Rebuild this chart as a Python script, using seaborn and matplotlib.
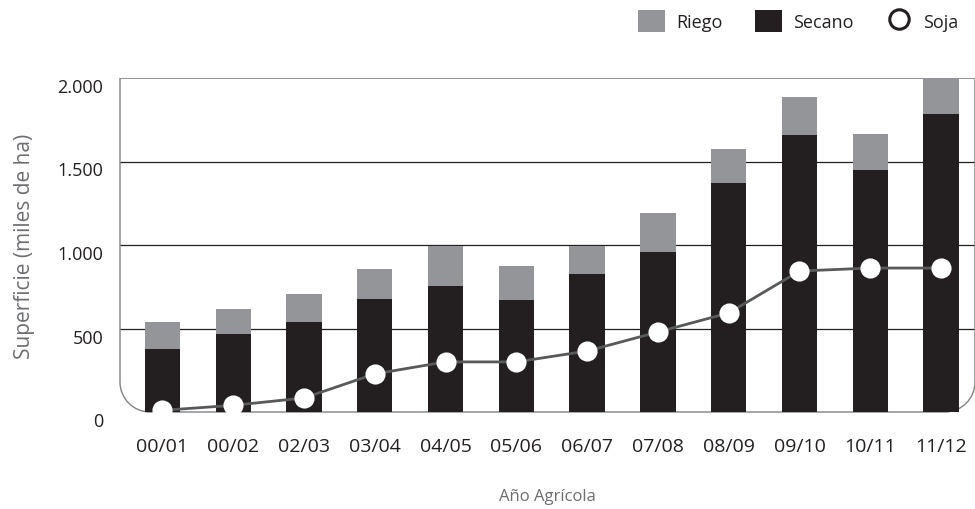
import matplotlib
matplotlib.use("Agg")
import matplotlib.pyplot as plt
import seaborn as sns
import pandas as pd
from matplotlib.path import Path
from matplotlib.patches import PathPatch, Patch
from matplotlib.lines import Line2D
import matplotlib.transforms as mtransforms

campanas = ["00/01", "00/02", "02/03", "03/04", "04/05", "05/06",
            "06/07", "07/08", "08/09", "09/10", "10/11", "11/12"]
secano = [377, 467, 539, 677, 754, 671, 826, 958, 1371, 1659, 1449, 1784]
riego = [162, 150, 168, 179, 240, 203, 168, 234, 204, 227, 216, 216]
soja = [10, 40, 84, 228, 300, 300, 365, 479, 593, 844, 862, 862]
yticks = [0, 500, 1000, 1500, 2000]
ytick_labels = ["0", "500", "1.000", "1.500", "2.000"]

GRAY = "#939598"
BLACK = "#231f20"
LINE = "#58595b"
TXT = "#6d6e71"

sns.set_theme(style="white")
plt.rcParams["font.family"] = ["Open Sans", "DejaVu Sans"]

df = pd.DataFrame({"campana": campanas, "secano": secano, "riego": riego, "soja": soja})
df["total"] = df["secano"] + df["riego"]

fig = plt.figure(figsize=(9.75, 5.10), dpi=100)
ax = fig.add_axes([120 / 975, 1 - 413 / 510, 855 / 975, 334 / 510])

# gridlines
for v in [500, 1000, 1500]:
    ax.axhline(v, color="#231f20", lw=0.9, zorder=1)
ax.axhline(2000, color="#808285", lw=1.2, zorder=1)

sns.barplot(data=df, x="campana", y="total", color=GRAY, width=0.5,
            saturation=1, ax=ax, zorder=2, linewidth=0, edgecolor="none")
sns.barplot(data=df, x="campana", y="secano", color=BLACK, width=0.5,
            saturation=1, ax=ax, zorder=3, linewidth=0, edgecolor="none")
sns.pointplot(data=df, x="campana", y="soja", color=LINE, ax=ax,
              markers="o", linewidth=2, markersize=10, zorder=4)
for ln in ax.lines:
    if len(ln.get_xdata()) == len(campanas):
        ln.set_markerfacecolor("white")
        ln.set_markeredgecolor("white")
        ln.set_markersize(13)
        ln.set_zorder(5)

ax.set_xlim(-0.6, 11.48)
ax.set_ylim(0, 2000)
for s in ax.spines.values():
    s.set_visible(False)

# frame with rounded bottom corners (axes coordinates)
W, H = 855.0, 334.0
rx, ry = 30 / W, 30 / H
k = 0.5523
verts = [(0, 1), (0, ry),
         (0, ry * (1 - k)), (rx * (1 - k), 0), (rx, 0),
         (1 - rx, 0),
         (1 - rx * (1 - k), 0), (1, ry * (1 - k)), (1, ry),
         (1, 1)]
codes = [Path.MOVETO, Path.LINETO,
         Path.CURVE4, Path.CURVE4, Path.CURVE4,
         Path.LINETO,
         Path.CURVE4, Path.CURVE4, Path.CURVE4,
         Path.LINETO]
frame = PathPatch(Path(verts, codes), transform=ax.transAxes, fill=False,
                  edgecolor="#808285", lw=1.0, zorder=1.5, clip_on=False)
ax.add_patch(frame)

ax.set_yticks(yticks)
ax.set_yticklabels(ytick_labels)
ax.tick_params(axis="y", length=0, pad=12, labelsize=13, labelcolor="#231f20")
ax.tick_params(axis="x", length=0, pad=18, labelsize=14, labelcolor="#231f20")
off = mtransforms.ScaledTranslation(0, -7 / 100, fig.dpi_scale_trans)
for lab in ax.get_yticklabels():
    lab.set_transform(lab.get_transform() + off)

ax.set_xlabel("Año Agrícola", fontsize=12, color=TXT, labelpad=24)
ax.set_ylabel("Superficie (miles de ha)", fontsize=15, color=TXT, labelpad=16)

handles = [Patch(facecolor=GRAY, edgecolor="none"),
           Patch(facecolor=BLACK, edgecolor="none"),
           Line2D([], [], marker="o", linestyle="none", markersize=14,
                  markerfacecolor="white", markeredgecolor=BLACK, markeredgewidth=2.2)]
fig.legend(handles, ["Riego", "Secano", "Soja"], loc="upper right",
           bbox_to_anchor=(1.0, 1.01), ncol=3, frameon=False,
           prop={"size": 13},
           handlelength=1.5, handleheight=1.5, columnspacing=1.8,
           handletextpad=0.6, labelcolor="#231f20")

fig.savefig("out.png", dpi=100)
